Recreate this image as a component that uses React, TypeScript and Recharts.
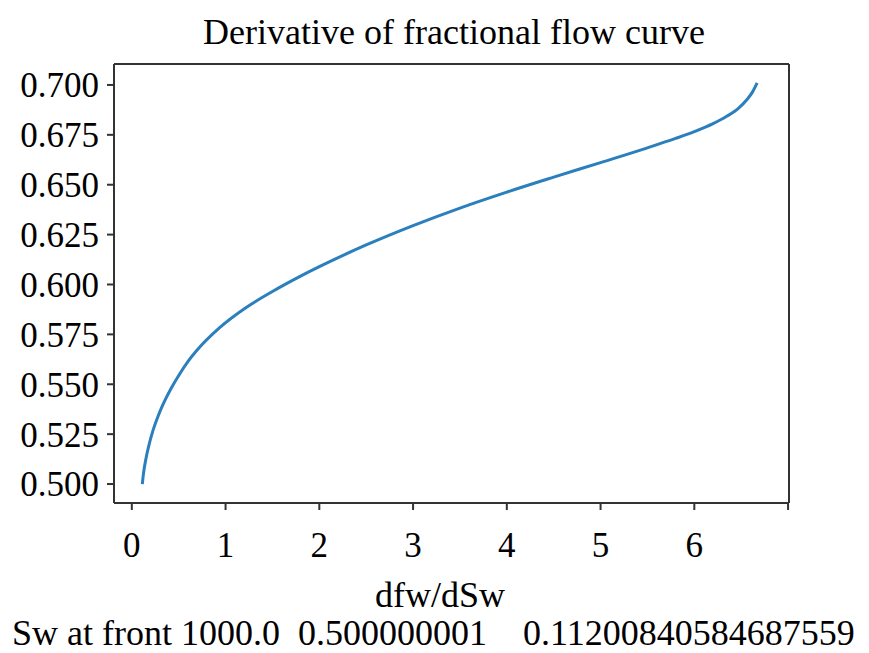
import React from "react";
import { LineChart, Line, XAxis, YAxis, ReferenceLine } from "recharts";

const dfwDSw = [0.112, 0.125, 0.15, 0.18, 0.227, 0.28, 0.334, 0.42, 0.512, 0.6, 0.69, 0.94, 1.22, 1.5, 1.8, 2.1, 2.5, 3.0, 3.5, 4.0, 4.5, 5.0, 5.5, 5.8, 6.0, 6.2, 6.35, 6.47, 6.56, 6.62, 6.67];
const swValues = [0.5, 0.5055, 0.5125, 0.519, 0.527, 0.534, 0.54, 0.548, 0.5553, 0.5615, 0.5668, 0.5785, 0.5885, 0.5965, 0.6042, 0.6112, 0.6198, 0.6295, 0.6383, 0.6463, 0.6538, 0.6611, 0.6685, 0.6732, 0.6766, 0.6806, 0.6844, 0.6883, 0.6926, 0.6964, 0.701];
const xTicks = [0, 1, 2, 3, 4, 5, 6, 7];
const yTicks = [0.5, 0.525, 0.55, 0.575, 0.6, 0.625, 0.65, 0.675, 0.7];
const titleText = "Derivative of fractional flow curve";
const xLabelText = "dfw/dSw";
const footerText = "Sw at front 1000.0  0.500000001    0.11200840584687559";

const data = dfwDSw.map((x, i) => ({ x, y: swValues[i] }));

const FONT = "'Liberation Serif', 'Times New Roman', serif";
const AXIS = "#333";
const X_DOMAIN: [number, number] = [-0.19, 7.01];
const Y_DOMAIN: [number, number] = [0.4905, 0.7105];

export default function App() {
  return (
    <div style={{ position: "absolute", left: 0, top: 0, width: 869, height: 653, background: "#fff" }}>
      <LineChart
        width={869}
        height={653}
        data={data}
        margin={{ top: 64, right: 80, bottom: 0, left: 0 }}
      >
        <XAxis
          dataKey="x"
          type="number"
          domain={X_DOMAIN}
          ticks={xTicks}
          allowDataOverflow
          height={150}
          tickSize={7}
          tickMargin={22}
          tickFormatter={(v: number) => (v === 7 ? "" : String(v))}
          axisLine={{ stroke: AXIS, strokeWidth: 2 }}
          tickLine={{ stroke: AXIS, strokeWidth: 2 }}
          tick={{ fill: "#000", fontSize: 35, fontFamily: FONT }}
        />
        <YAxis
          type="number"
          domain={Y_DOMAIN}
          ticks={yTicks}
          allowDataOverflow
          width={114}
          tickSize={7}
          tickMargin={8}
          tickFormatter={(v: number) => v.toFixed(3)}
          axisLine={{ stroke: AXIS, strokeWidth: 2 }}
          tickLine={{ stroke: AXIS, strokeWidth: 2 }}
          tick={{ fill: "#000", fontSize: 35, fontFamily: FONT }}
        />
        <ReferenceLine y={Y_DOMAIN[1]} stroke={AXIS} strokeWidth={2} ifOverflow="visible" />
        <ReferenceLine x={X_DOMAIN[1]} stroke={AXIS} strokeWidth={2} ifOverflow="visible" />
        <Line
          dataKey="y"
          type="monotone"
          stroke="#2a7fbc"
          strokeWidth={3}
          dot={false}
          isAnimationActive={false}
        />
      </LineChart>
      <svg
        width={869}
        height={653}
        style={{ position: "absolute", left: 0, top: 0, pointerEvents: "none" }}
      >
        <text x={454} y={44} textAnchor="middle" fontFamily={FONT} fontSize={36} fill="#000">
          {titleText}
        </text>
        <text x={440} y={607} textAnchor="middle" fontFamily={FONT} fontSize={36} fill="#000">
          {xLabelText}
        </text>
        <text x={12} y={645} fontFamily={FONT} fontSize={36} fill="#000" style={{ whiteSpace: "pre" }}>
          {footerText}
        </text>
      </svg>
    </div>
  );
}
